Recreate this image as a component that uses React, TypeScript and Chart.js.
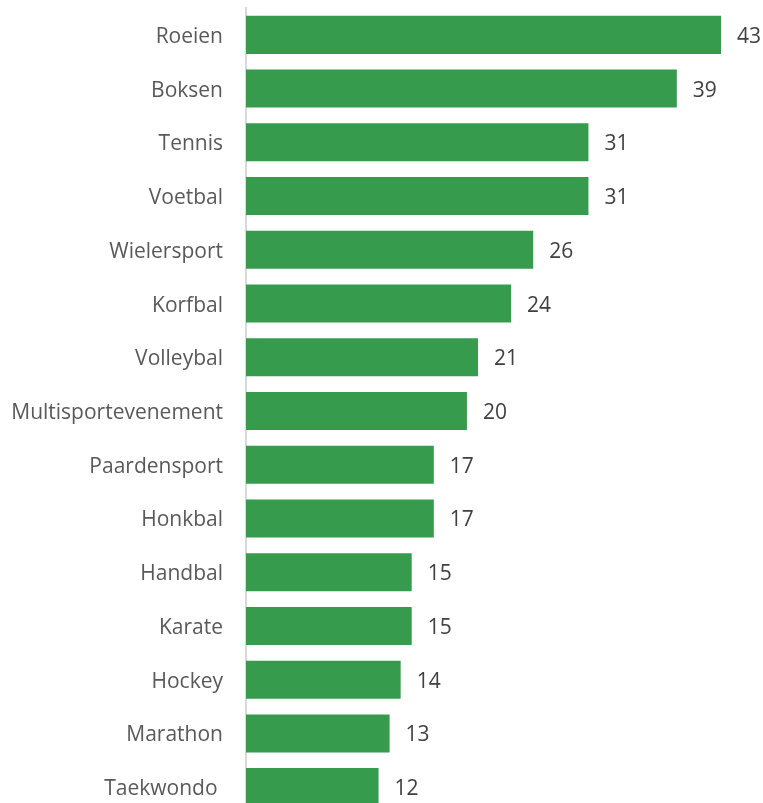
import React, { useEffect, useRef } from "react";
import { Chart, registerables } from "chart.js";

Chart.register(...registerables);

const categories = [
  "Roeien",
  "Boksen",
  "Tennis",
  "Voetbal",
  "Wielersport",
  "Korfbal",
  "Volleybal",
  "Multisportevenement",
  "Paardensport",
  "Honkbal",
  "Handbal",
  "Karate",
  "Hockey",
  "Marathon",
  "Taekwondo ",
];

const values = [43, 39, 31, 31, 26, 24, 21, 20, 17, 17, 15, 15, 14, 13, 12];

const FONT = "'Open Sans', 'Noto Sans', sans-serif";

const valueLabels = {
  id: "valueLabels",
  afterDatasetsDraw(chart: any) {
    const ctx = chart.ctx;
    const meta = chart.getDatasetMeta(0);
    ctx.save();
    ctx.fillStyle = "#404040";
    ctx.font = `21px ${FONT}`;
    ctx.textAlign = "left";
    ctx.textBaseline = "middle";
    meta.data.forEach((bar: any, i: number) => {
      ctx.fillText(String(values[i]), bar.x + 16, bar.y + 2);
    });
    ctx.restore();
  },
};

export default function App() {
  const ref = useRef<HTMLCanvasElement | null>(null);

  useEffect(() => {
    if (!ref.current) return;
    const chart = new Chart(ref.current, {
      type: "bar",
      data: {
        labels: categories,
        datasets: [
          {
            data: values,
            backgroundColor: "#379b4d",
            borderWidth: 0,
            categoryPercentage: 1,
            barPercentage: 0.708,
          },
        ],
      },
      options: {
        indexAxis: "y",
        animation: false,
        responsive: false,
        devicePixelRatio: 1,
        layout: { padding: { top: 8, right: 42, bottom: 0, left: 0 } },
        plugins: {
          legend: { display: false },
          tooltip: { enabled: false },
        },
        scales: {
          x: {
            display: false,
            min: 0,
            max: 43,
          },
          y: {
            grid: { display: false, drawTicks: false },
            border: { display: true, color: "#d9d9d9", width: 2 },
            ticks: {
              color: "#595959",
              font: { family: FONT, size: 21 },
              padding: 23,
              labelOffset: 2,
              autoSkip: false,
            },
            afterFit(scale: any) {
              scale.width = 246;
              scale.paddingTop = 0;
              scale.paddingBottom = 0;
            },
          },
        },
      },
      plugins: [valueLabels],
    });
    return () => chart.destroy();
  }, []);

  return (
    <div
      style={{
        position: "fixed",
        top: 0,
        left: 0,
        width: 763,
        height: 803,
        overflow: "hidden",
        background: "#ffffff",
      }}
    >
      <canvas ref={ref} width={763} height={814} style={{ display: "block" }} />
    </div>
  );
}
